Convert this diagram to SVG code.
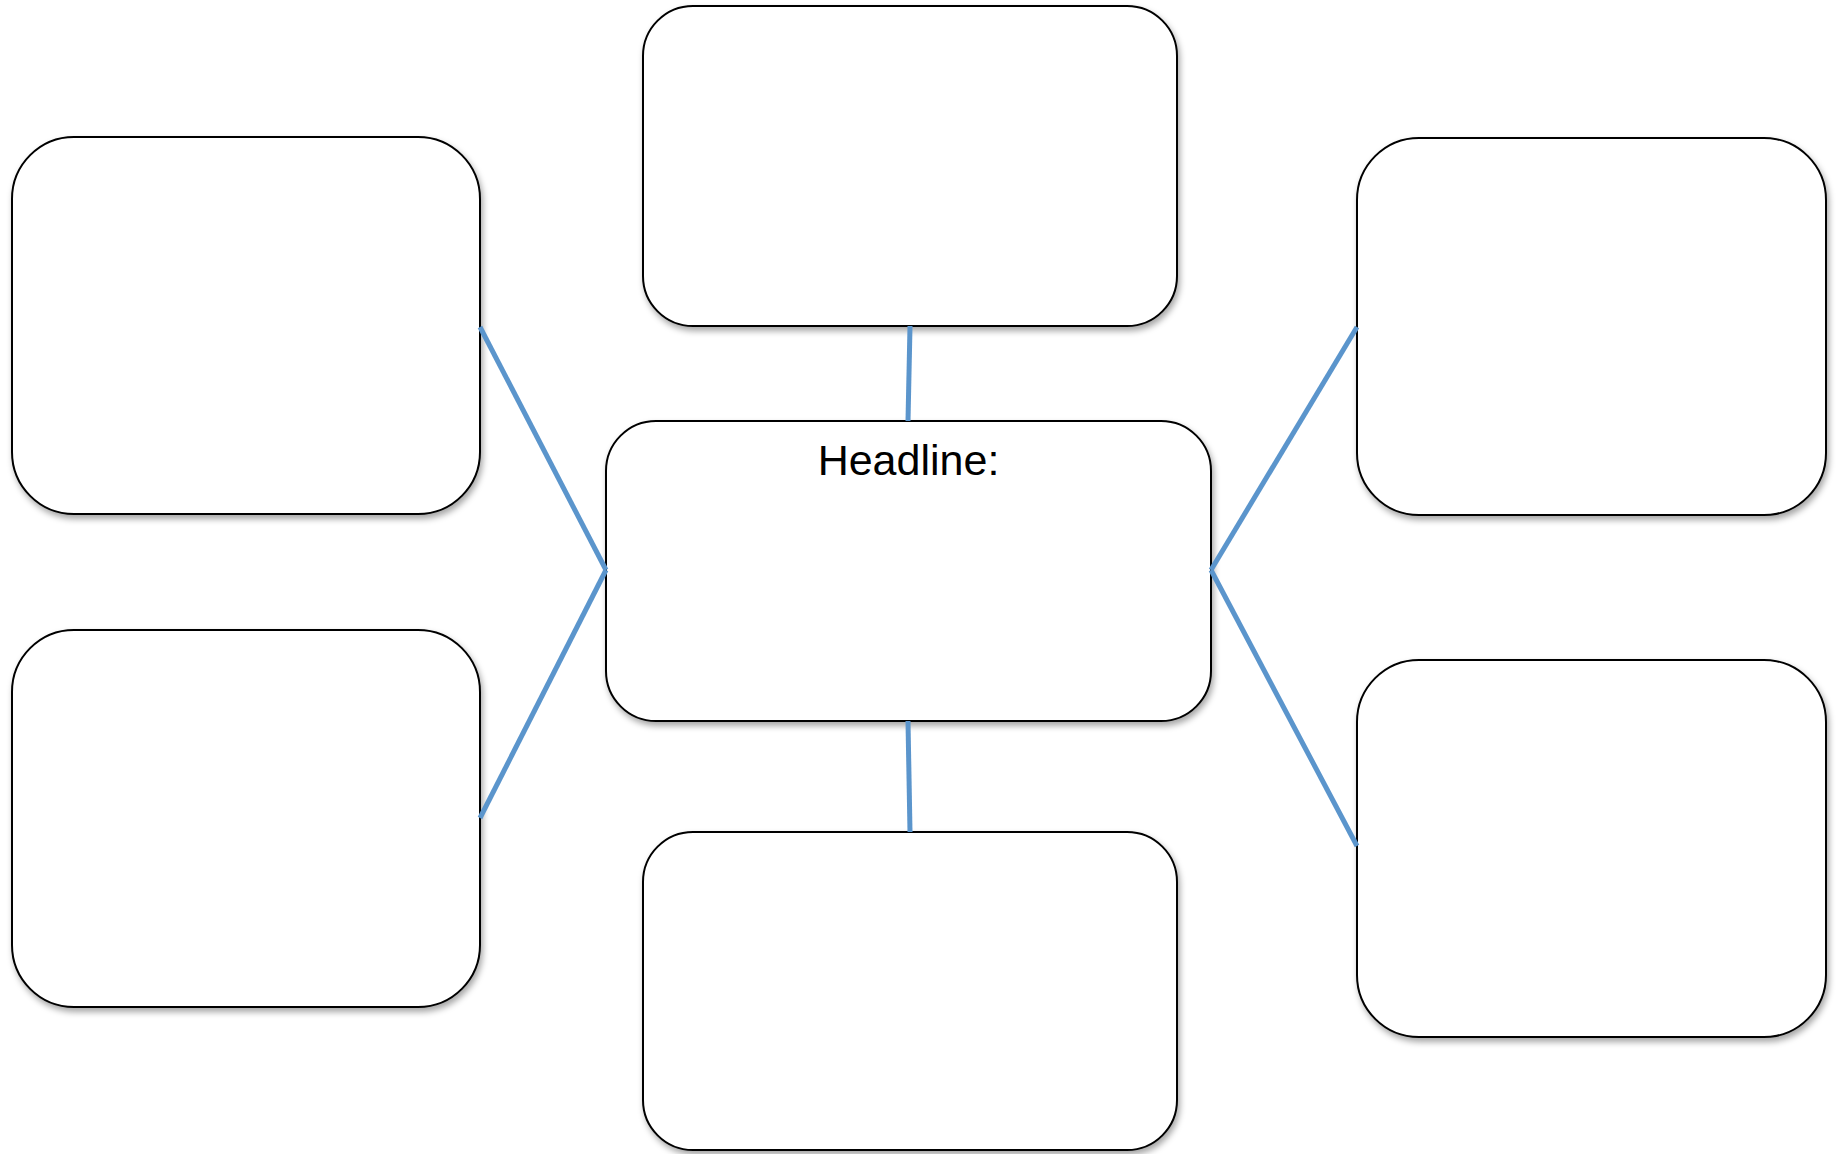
<svg xmlns="http://www.w3.org/2000/svg" width="1837" height="1154" viewBox="0 0 1837 1154">
<defs>
<filter id="sh" x="-5%" y="-5%" width="110%" height="115%">
<feDropShadow dx="2" dy="4" stdDeviation="3" flood-color="#000" flood-opacity="0.35"/>
</filter>
<style>
.box{fill:#fff;stroke:#000;stroke-width:2;filter:url(#sh)}
.con{stroke:#5B95CC;stroke-width:5;fill:none;stroke-linecap:butt}
.lbl{font-family:"Liberation Sans",Arial,sans-serif;font-size:43px;fill:#000}
</style>
</defs>
<rect width="1837" height="1154" fill="#fff"/>
<g id="node-top"><rect class="box" x="643" y="6" width="534" height="320" rx="50"/></g>
<g id="node-left-top"><rect class="box" x="12" y="137" width="468" height="377" rx="62"/></g>
<g id="node-left-bottom"><rect class="box" x="12" y="630" width="468" height="377" rx="62"/></g>
<g id="node-right-top"><rect class="box" x="1357" y="138" width="469" height="377" rx="62"/></g>
<g id="node-right-bottom"><rect class="box" x="1357" y="660" width="469" height="377" rx="62"/></g>
<g id="node-bottom"><rect class="box" x="643" y="832" width="534" height="318" rx="50"/></g>
<g id="node-center"><rect class="box" x="606" y="421" width="605" height="300" rx="50"/>
<text class="lbl" x="908.5" y="475" text-anchor="middle">Headline:</text></g>
<g id="connectors">
<line class="con" x1="910" y1="326" x2="908" y2="421"/>
<line class="con" x1="908" y1="721" x2="910" y2="832"/>
<line class="con" x1="480" y1="327" x2="606" y2="570"/>
<line class="con" x1="480" y1="818" x2="606" y2="570"/>
<line class="con" x1="1357" y1="327" x2="1211" y2="570"/>
<line class="con" x1="1211" y1="570" x2="1357" y2="846"/>
</g>
</svg>
